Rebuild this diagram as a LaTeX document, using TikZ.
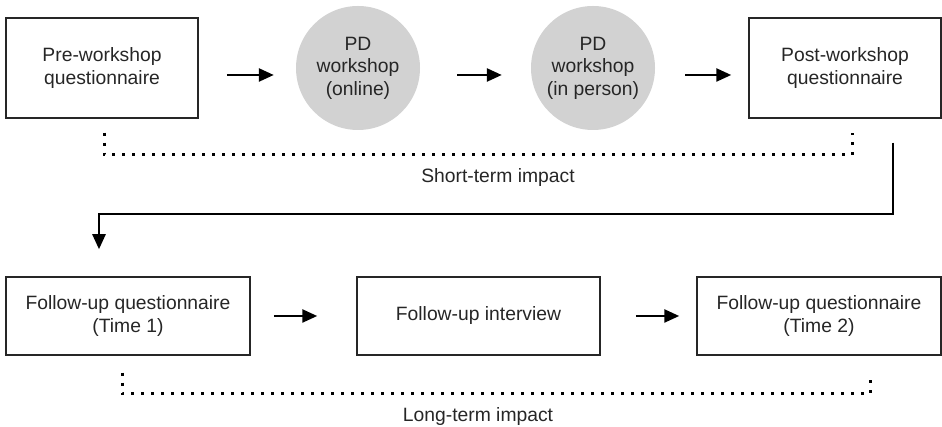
\documentclass[tikz,border=0pt]{standalone}
\usepackage{fontspec}
\setmainfont{Liberation Sans}
\usetikzlibrary{arrows.meta, calc}

\begin{document}
\begin{tikzpicture}[x=1pt, y=1pt,
	every node/.style={text=black!85, font=\fontsize{19.3}{22.5}\selectfont, align=center},
	box/.style={draw=black!85, line width=1.5pt, inner sep=0pt},
	disc/.style={circle, fill=gray!35, minimum size=124pt, inner sep=0pt},
	flow/.style={line width=2.5pt, -{Triangle[length=15pt, width=13pt]}},
	dotline/.style={line width=3pt, dash pattern=on 3pt off 7pt}]
	\useasboundingbox (0,0) rectangle (942,427);
	\node [box, minimum width=192pt, minimum height=100pt] (pre) at (102,359) {Pre-workshop\\questionnaire};
	\node [disc] (pdon) at (358,359) {PD\\workshop\\(online)};
	\node [disc] (pdin) at (593,359) {PD\\workshop\\(in person)};
	\node [box, minimum width=192pt, minimum height=100pt] (post) at (845,359) {Post-workshop\\questionnaire};
	\node [box, minimum width=244pt, minimum height=78pt] (fqa) at (128,111) {Follow-up questionnaire\\(Time 1)};
	\node [box, minimum width=243pt, minimum height=78pt] (intv) at (478.5,111) {Follow-up interview};
	\node [box, minimum width=244pt, minimum height=78pt] (fqb) at (819,111) {Follow-up questionnaire\\(Time 2)};
	\draw [flow, shorten <=28pt, shorten >=22pt] ([yshift=-7pt]pre.east) -- ([yshift=-7pt]pdon.west);
	\draw [flow, shorten <=37pt, shorten >=29pt] ([yshift=-7pt]pdon.east) -- ([yshift=-7pt]pdin.west);
	\draw [flow, shorten <=30pt, shorten >=17pt] ([yshift=-7pt]pdin.east) -- ([yshift=-7pt]post.west);
	\draw [flow, shorten <=23pt, shorten >=39pt] (fqa.east) -- (intv.west);
	\draw [flow, shorten <=35pt, shorten >=17pt] (intv.east) -- (fqb.west);
	\draw [flow] ([shift={(48pt,-24pt)}]post.south) |- ([shift={(-29pt,62pt)}]fqa.north) -- ([shift={(-29pt,27pt)}]fqa.north);
	\draw [dotline] ([shift={(2pt,-14pt)}]pre.south) |- ([shift={(7pt,-36pt)}]post.south) -- ([shift={(7pt,-14pt)}]post.south);
	\draw [dotline] ([shift={(-6pt,-17pt)}]fqa.south) |- ([shift={(51pt,-38pt)}]fqb.south) -- ([shift={(51pt,-17pt)}]fqb.south);
	\node [anchor=base] (short) at (498,244) {Short-term impact};
	\node [anchor=base] (long) at (478,5) {Long-term impact};
\end{tikzpicture}
\end{document}
